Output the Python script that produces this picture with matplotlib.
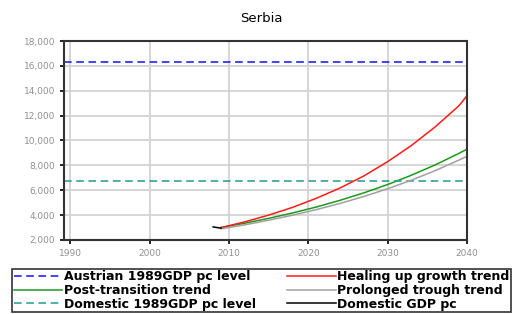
import matplotlib.pyplot as plt
import numpy as np

# data
years = [2009, 2012, 2015, 2018, 2021, 2024, 2027, 2030, 2033, 2036, 2039, 2040]
healing = [3000, 3460, 4000, 4620, 5350, 6180, 7150, 8300, 9600, 11100, 12800, 13600]
post_trans = [3000, 3350, 3740, 4170, 4650, 5190, 5790, 6460, 7210, 8040, 8970, 9300]
prolonged = [2900, 3220, 3590, 3990, 4440, 4940, 5500, 6120, 6810, 7580, 8430, 8730]
dom_years = [2008, 2009]
dom_gdp = [3050, 2950]
austrian_1989 = 16300
domestic_1989 = 6750

xticks = [1990, 2000, 2010, 2020, 2030, 2040]
yticks = list(range(2000, 18001, 2000))

plt.rcParams['font.family'] = ['DejaVu Sans']

fig = plt.figure(figsize=(5.22, 3.14), dpi=100)
ax = fig.add_axes([0.1226, 0.2357, 0.772, 0.6337])

l1 = ax.axhline(austrian_1989, color='#1010ff', ls=(0, (5, 3)), lw=1.1, label='Austrian 1989GDP pc level')
l2, = ax.plot(years, post_trans, color='#1a9a1a', lw=1.1, label='Post-transition trend')
l3 = ax.axhline(domestic_1989, color='#209a90', ls=(0, (5, 3)), lw=1.1, label='Domestic 1989GDP pc level')
l4, = ax.plot(years, healing, color='#ff1a1a', lw=1.1, label='Healing up growth trend')
l5, = ax.plot(years, prolonged, color='#a0a0a0', lw=1.1, label='Prolonged trough trend')
l6, = ax.plot(dom_years, dom_gdp, color='black', lw=1.1, label='Domestic GDP pc')

ax.set_xlim(1989.2, 2040)
ax.set_ylim(2000, 18000)
ax.set_xticks(xticks)
ax.set_yticks(yticks)
ax.set_yticklabels([f"{v:,}" for v in yticks])
ax.grid(True, color='#d0d0d0', lw=1.2)
ax.set_axisbelow(True)
ax.tick_params(labelsize=6.5, colors='black', labelcolor='#909090', length=3, width=1.2)
for s in ax.spines.values():
    s.set_linewidth(1.5)
    s.set_color('#333333')

fig.suptitle('Serbia', y=0.962, fontsize=9.5)

leg = fig.legend(handles=[l1, l2, l3, l4, l5, l6], loc='lower left',
                 bbox_to_anchor=(0.023, 0.006),
                 ncol=2, frameon=True, fancybox=False,
                 prop={'family': 'DejaVu Sans', 'weight': 'bold', 'size': 9},
                 handlelength=3.9, handletextpad=0.1, borderpad=0.12,
                 labelspacing=0.05, borderaxespad=0, columnspacing=2.5)
leg.get_frame().set_edgecolor('black')
leg.get_frame().set_linewidth(1.2)

fig.savefig('out.png', dpi=100)
